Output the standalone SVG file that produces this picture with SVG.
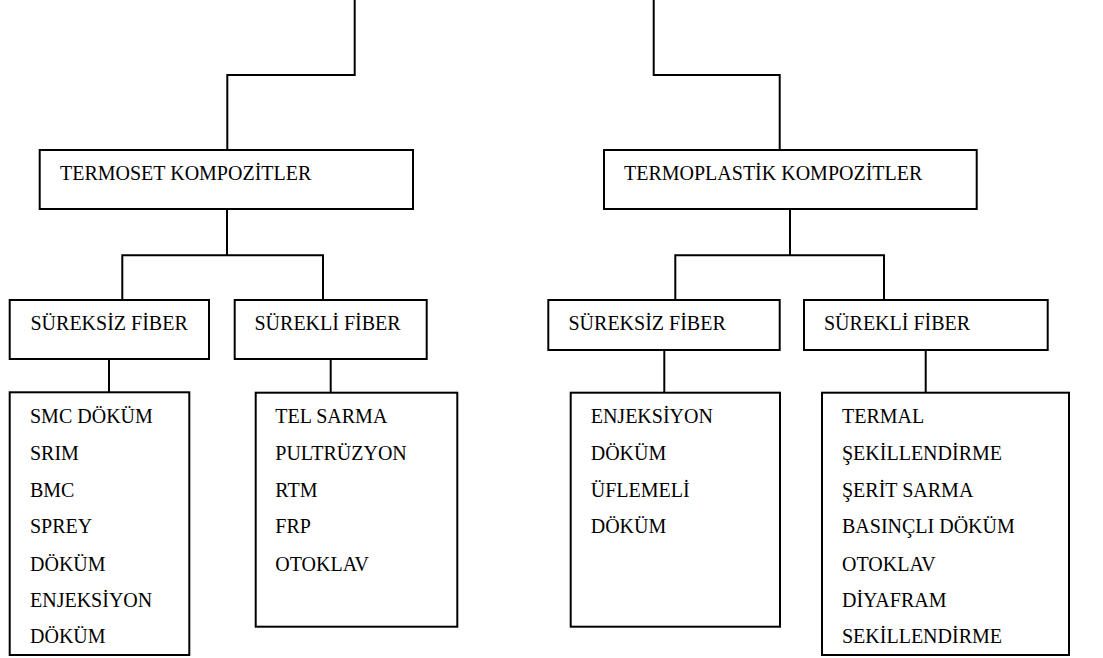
<svg xmlns="http://www.w3.org/2000/svg" width="1103" height="658" viewBox="0 0 1103 658">
<style>
.box{fill:#fff;stroke:#000;stroke-width:2}
.c{fill:none;stroke:#000;stroke-width:2}
.t{font-family:'Liberation Serif','Tinos','DejaVu Serif',serif;font-size:20px;fill:#000}
</style>
<rect width="1103" height="658" fill="#fff"/>
<g id="connectors">
<polyline class="c" points="354.7,0 354.7,75 227.3,75 227.3,150"/>
<polyline class="c" points="653.7,0 653.7,75 779.7,75 779.7,150"/>
<line class="c" x1="227" y1="209" x2="227" y2="255.3"/>
<polyline class="c" points="122.3,300 122.3,255.3 323,255.3 323,300"/>
<line class="c" x1="790" y1="209" x2="790" y2="255.3"/>
<polyline class="c" points="675.3,300 675.3,255.3 884,255.3 884,300"/>
<line class="c" x1="109" y1="359" x2="109" y2="392.3"/>
<line class="c" x1="330.7" y1="359" x2="330.7" y2="392.7"/>
<line class="c" x1="664.3" y1="350" x2="664.3" y2="392.7"/>
<line class="c" x1="925.7" y1="350" x2="925.7" y2="392.7"/>
</g>
<g class="t" font-family="Liberation Serif, DejaVu Serif, serif">
<g id="termoset">
<rect class="box" x="39.7" y="150" width="373.3" height="59"/>
<text x="60" y="180.3">TERMOSET KOMPOZİTLER</text>
</g>
<g id="termoplastik">
<rect class="box" x="604" y="150" width="372.7" height="59"/>
<text x="624" y="180.3">TERMOPLASTİK KOMPOZİTLER</text>
</g>
<g id="ts-sureksiz">
<rect class="box" x="9.7" y="300" width="199.3" height="59"/>
<text x="30.5" y="329.5">SÜREKSİZ FİBER</text>
</g>
<g id="ts-surekli">
<rect class="box" x="234.7" y="300" width="192" height="59"/>
<text x="254.5" y="329.5">SÜREKLİ FİBER</text>
</g>
<g id="tp-sureksiz">
<rect class="box" x="548.3" y="300" width="231.4" height="50"/>
<text x="568.5" y="330">SÜREKSİZ FİBER</text>
</g>
<g id="tp-surekli">
<rect class="box" x="804" y="300" width="243.7" height="50"/>
<text x="824" y="330">SÜREKLİ FİBER</text>
</g>
<g id="ts-sureksiz-list">
<rect class="box" x="9.7" y="392.3" width="179.6" height="262.7"/>
<text x="30" y="423.3">SMC DÖKÜM</text>
<text x="30" y="460">SRIM</text>
<text x="30" y="496.7">BMC</text>
<text x="30" y="532.7">SPREY</text>
<text x="30" y="570.7">DÖKÜM</text>
<text x="30" y="606.7">ENJEKSİYON</text>
<text x="30" y="643.3">DÖKÜM</text>
</g>
<g id="ts-surekli-list">
<rect class="box" x="255.7" y="392.7" width="201.6" height="234"/>
<text x="275.3" y="423.3">TEL SARMA</text>
<text x="275.3" y="460">PULTRÜZYON</text>
<text x="275.3" y="496.7">RTM</text>
<text x="275.3" y="532.7">FRP</text>
<text x="275.3" y="570.7">OTOKLAV</text>
</g>
<g id="tp-sureksiz-list">
<rect class="box" x="570.7" y="392.7" width="209.3" height="234"/>
<text x="590.7" y="423.3">ENJEKSİYON</text>
<text x="590.7" y="460">DÖKÜM</text>
<text x="590.7" y="496.7">ÜFLEMELİ</text>
<text x="590.7" y="532.7">DÖKÜM</text>
</g>
<g id="tp-surekli-list">
<rect class="box" x="822" y="392.7" width="247" height="262.3"/>
<text x="842" y="423.3">TERMAL</text>
<text x="842" y="460">ŞEKİLLENDİRME</text>
<text x="842" y="496.7">ŞERİT SARMA</text>
<text x="842" y="532.7">BASINÇLI DÖKÜM</text>
<text x="842" y="570.7">OTOKLAV</text>
<text x="842" y="606.7">DİYAFRAM</text>
<text x="842" y="643.3">SEKİLLENDİRME</text>
</g>
</g>
</svg>
